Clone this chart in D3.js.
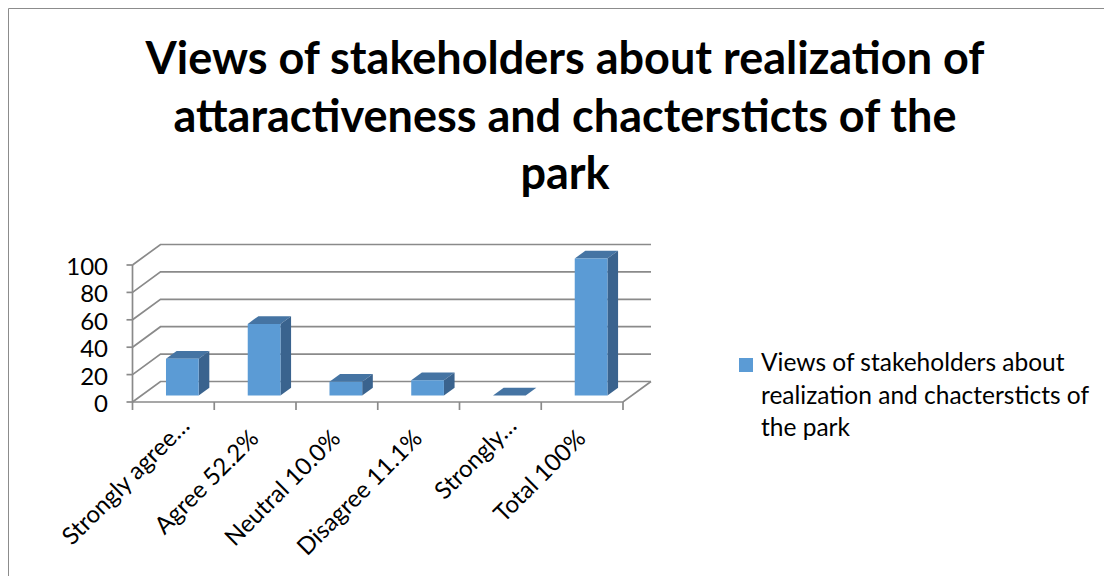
<!DOCTYPE html>
<html>
<head>
<meta charset="utf-8">
<script src="https://cdn.jsdelivr.net/npm/d3@7"></script>
<style>
  html, body { margin: 0; padding: 0; background: #fff; }
  svg { display: block; font-family: Lato, "Open Sans", "Noto Sans", sans-serif; }
</style>
</head>
<body>
<svg id="chart" width="1104" height="576"></svg>
<script>
// ---- data ----
const titleLines = [
  "Views of stakeholders about realization of",
  "attaractiveness and chactersticts of the",
  "park"
];
const categories = [
  "Strongly agree…",
  "Agree 52.2%",
  "Neutral 10.0%",
  "Disagree 11.1%",
  "Strongly…",
  "Total 100%"
];
const values = [26.7, 52.2, 10.0, 11.1, 0, 100];
const yTicks = [0, 20, 40, 60, 80, 100];
const legendLines = [
  "Views of stakeholders about",
  "realization and chactersticts of",
  "the park"
];

// ---- setup ----
const W = 1104, H = 576;
const svg = d3.select("#chart");
const gridColor = "#8a8a8a";
const barFront = "#5b9bd5", barTop = "#4574a3", barSide = "#3a638e";

// outer chart frame (only top and left edges are inside the view)
svg.append("path")
  .attr("d", `M8.5,${H} V8.5 H${W}`)
  .attr("fill", "none")
  .attr("stroke", "#8c8c8c")
  .attr("stroke-width", 1);

// title
svg.append("g")
  .selectAll("text")
  .data(titleLines)
  .join("text")
  .attr("x", 565)
  .attr("y", (d, i) => 74 + i * 57.5)
  .attr("text-anchor", "middle")
  .attr("font-weight", "bold")
  .attr("font-size", 45)
  .attr("fill", "#000")
  .text(d => d);

// ---- 3-D column chart ----
const x = d3.scaleBand().domain(categories).range([132.5, 623]);
const y = d3.scaleLinear().domain([0, 100]).range([402, 265]);
const depth = { dx: 28, dy: -20.5 };
const proj = (px, py, z) => [px + depth.dx * z, py + depth.dy * z];
const x0 = x.range()[0], x1 = x.range()[1];

const plot = svg.append("g");

// walls: side-wall diagonals + back-wall gridlines
plot.append("g")
  .selectAll("path")
  .data(yTicks)
  .join("path")
  .attr("d", t => {
    const a = [x0, y(t)], b = proj(x0, y(t), 1), c = proj(x1, y(t), 1);
    return `M${a} L${b} L${c}`;
  })
  .attr("fill", "none")
  .attr("stroke", gridColor)
  .attr("stroke-width", 1.7);

// floor front and right edges
plot.append("path")
  .attr("d", `M${x0},${y(0)} H${x1} L${proj(x1, y(0), 1)}`)
  .attr("fill", "none")
  .attr("stroke", gridColor)
  .attr("stroke-width", 1.7);

// value axis line and ticks
plot.append("path")
  .attr("d", `M${x0},${y(100)} V${y(0)}`)
  .attr("fill", "none")
  .attr("stroke", gridColor)
  .attr("stroke-width", 1.7);
plot.append("g")
  .selectAll("path")
  .data(yTicks)
  .join("path")
  .attr("d", t => `M${x0 - 6},${y(t)} H${x0}`)
  .attr("stroke", gridColor)
  .attr("stroke-width", 1.7);

// category ticks at band edges
const edges = categories.map(c => x(c)).concat([x1]);
plot.append("g")
  .selectAll("path")
  .data(edges)
  .join("path")
  .attr("d", e => `M${e},${y(0)} V${y(0) + 8}`)
  .attr("stroke", gridColor)
  .attr("stroke-width", 1.7);

// value labels
plot.append("g")
  .selectAll("text")
  .data(yTicks)
  .join("text")
  .attr("x", 108)
  .attr("y", t => y(t) + 10)
  .attr("text-anchor", "end")
  .attr("font-size", 24)
  .attr("fill", "#000")
  .text(t => t);

// columns
const z0 = 0.32, z1 = 0.70;
const bw = x.bandwidth() * 0.4;
const bars = plot.append("g")
  .selectAll("g")
  .data(categories.map((c, i) => ({ c, v: values[i] })))
  .join("g");

const poly = pts => "M" + pts.map(p => p.join(",")).join("L") + "Z";

bars.append("path")
  .attr("fill", barTop)
  .attr("d", d => {
    const l = x(d.c) + (x.bandwidth() - bw) / 2, r = l + bw, top = y(d.v);
    return poly([proj(l, top, z0), proj(r, top, z0), proj(r, top, z1), proj(l, top, z1)]);
  });
bars.filter(d => d.v > 0).append("path")
  .attr("fill", barSide)
  .attr("d", d => {
    const r = x(d.c) + (x.bandwidth() + bw) / 2, top = y(d.v), bot = y(0);
    return poly([proj(r, top, z0), proj(r, top, z1), proj(r, bot, z1), proj(r, bot, z0)]);
  });
bars.filter(d => d.v > 0).append("path")
  .attr("fill", barFront)
  .attr("d", d => {
    const l = x(d.c) + (x.bandwidth() - bw) / 2, r = l + bw, top = y(d.v), bot = y(0);
    return poly([proj(l, top, z0), proj(r, top, z0), proj(r, bot, z0), proj(l, bot, z0)]);
  });

// rotated category labels
plot.append("g")
  .selectAll("g")
  .data(categories)
  .join("g")
  .attr("transform", c => `translate(${x(c) + x.bandwidth() / 2 + 5},440) rotate(-45)`)
  .append("text")
  .attr("x", c => c.endsWith("…") ? 18 : 0)
  .attr("text-anchor", "end")
  .attr("font-size", 24)
  .attr("fill", "#000")
  .text(c => c);

// ---- legend ----
const legend = svg.append("g");
legend.append("rect")
  .attr("x", 739).attr("y", 358)
  .attr("width", 14).attr("height", 14)
  .attr("fill", barFront);
legend.selectAll("text")
  .data(legendLines)
  .join("text")
  .attr("x", 761)
  .attr("y", (d, i) => 371 + i * 32.5)
  .attr("font-size", 24.5)
  .attr("fill", "#000")
  .text(d => d);
</script>
</body>
</html>
